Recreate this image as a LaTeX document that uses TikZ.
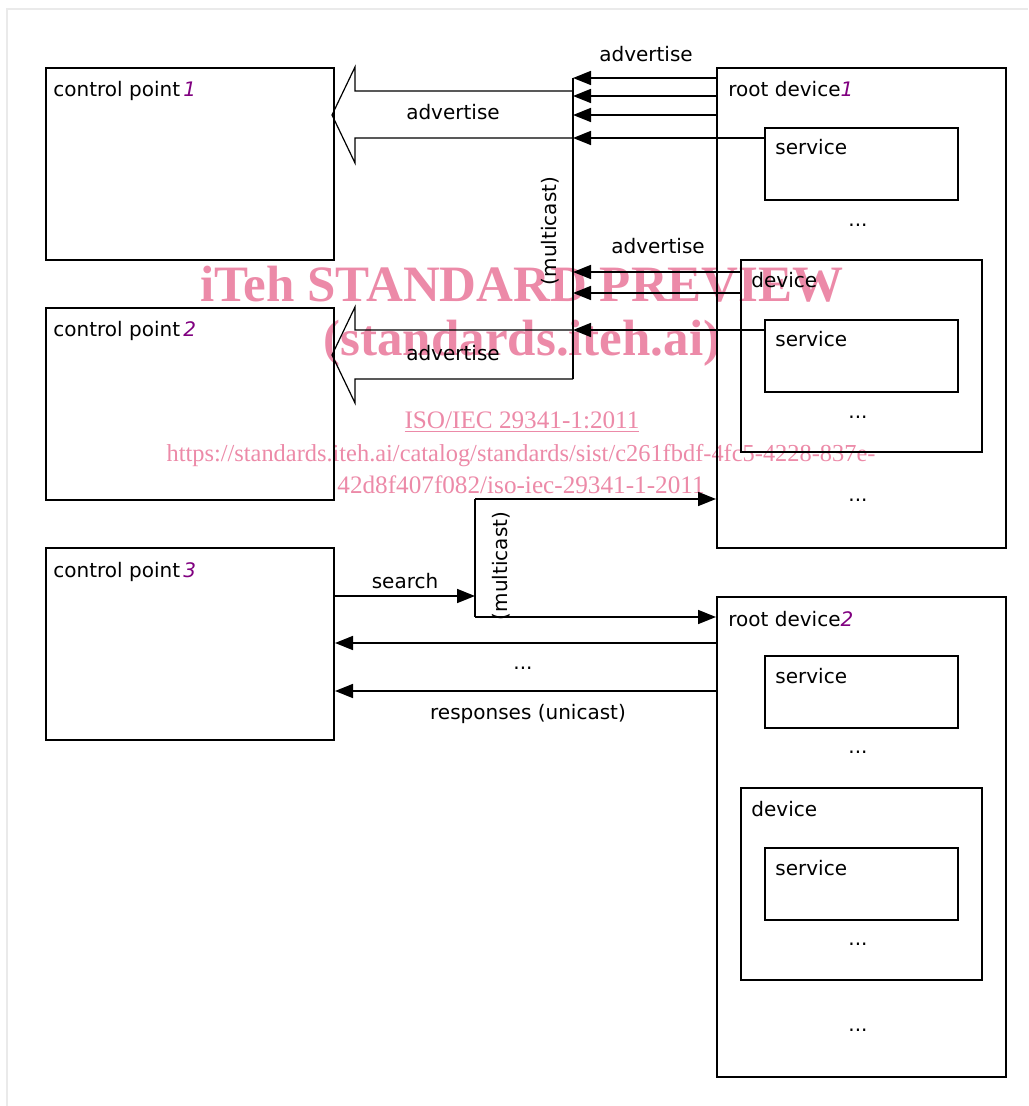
\documentclass[tikz,border=0pt]{standalone}
\usepackage{fontspec}
\setmainfont{DejaVu Sans}
\newfontfamily\wmfont{Liberation Serif}
\usepackage{tikz}
\usetikzlibrary{positioning,arrows.meta}
\usepackage{xcolor}
\definecolor{numpurple}{RGB}{128,0,128}
\definecolor{wmpink}{RGB}{236,138,168}
\definecolor{framegray}{RGB}{234,234,234}
\newcommand{\devnum}[1]{\textcolor{numpurple}{\textit{#1}}}

\begin{document}
\begin{tikzpicture}[
    x=0.5pt, y=-0.5pt,
    every node/.style={font=\fontsize{10}{12}\selectfont, inner sep=0pt},
    box/.style={draw, line width=1pt, anchor=north west},
    cpbox/.style={box, minimum width=144pt, minimum height=96pt},
    rootbox/.style={box, minimum width=144.5pt, minimum height=240pt},
    devbox/.style={box, minimum width=120.5pt, minimum height=96pt},
    svcbox/.style={box, minimum width=96.5pt, minimum height=36pt},
    lbl/.style={anchor=base west},
    arr/.style={-{Triangle[length=9pt, width=7pt]}, line width=0.8pt},
    bus/.style={line width=0.8pt},
    bigarr/.style={line width=0.6pt, line join=miter},
    wm/.style={text=wmpink, anchor=base, font=\wmfont\fontsize{12.6}{14}\selectfont},
    wmbig/.style={text=wmpink, font=\wmfont\bfseries\fontsize{25.5}{28}\selectfont}
]
\useasboundingbox (0,0) rectangle (1028,1106);
\draw[framegray, line width=1pt] (7,1106) -- (7,9) -- (1028,9);

\node[wmbig] (wm1) at (522,284) {iTeh STANDARD PREVIEW};
\node[wmbig] (wm2) at (522,343) {(standards.iteh.ai)};
\node[wm] (wm3) at (522,428) {\underline{ISO/IEC 29341-1:2011}};
\node[wm, font=\wmfont\fontsize{12.2}{14}\selectfont] (wm4) at (521,461) {https://standards.iteh.ai/catalog/standards/sist/c261fbdf-4fc5-4228-837e-};
\node[wm] (wm5) at (521,493) {42d8f407f082/iso-iec-29341-1-2011};

\node[cpbox] (cp1) at (45,67) {};
\node[cpbox] (cp2) at (45,307) {};
\node[cpbox] (cp3) at (45,547) {};
\node[lbl] (cp1lbl) at ([shift={(8,30)}]cp1.north west) {control point\,\devnum{1}};
\node[lbl] (cp2lbl) at ([shift={(8,30)}]cp2.north west) {control point\,\devnum{2}};
\node[lbl] (cp3lbl) at ([shift={(8,30)}]cp3.north west) {control point\,\devnum{3}};

\node[rootbox] (rd1) at (716,67) {};
\node[svcbox] (rd1svc) at (764,127) {};
\node[devbox] (rd1dev) at (740,259) {};
\node[svcbox] (rd1devsvc) at (764,319) {};
\node[lbl] (rd1lbl) at ([shift={(12,30)}]rd1.north west) {root device\devnum{1}};
\node[lbl] (rd1svclbl) at ([shift={(11,28)}]rd1svc.north west) {service};
\node[lbl] (rd1devlbl) at ([shift={(11,29)}]rd1dev.north west) {device};
\node[lbl] (rd1devsvclbl) at ([shift={(11,28)}]rd1devsvc.north west) {service};
\node (rd1dots1) at (858,225) {...};
\node (rd1dots2) at (858,417) {...};
\node (rd1dots3) at (858,500) {...};

\node[rootbox] (rd2) at (716,596) {};
\node[svcbox] (rd2svc) at (764,655) {};
\node[devbox] (rd2dev) at (740,787) {};
\node[svcbox] (rd2devsvc) at (764,847) {};
\node[lbl] (rd2lbl) at ([shift={(12,30)}]rd2.north west) {root device\devnum{2}};
\node[lbl] (rd2svclbl) at ([shift={(11,28)}]rd2svc.north west) {service};
\node[lbl] (rd2devlbl) at ([shift={(11,29)}]rd2dev.north west) {device};
\node[lbl] (rd2devsvclbl) at ([shift={(11,28)}]rd2devsvc.north west) {service};
\node (rd2dots1) at (858,752) {...};
\node (rd2dots2) at (858,944) {...};
\node (rd2dots3) at (858,1030) {...};

% advertise (multicast)
\coordinate (busA) at (573,78);
\coordinate (busAend) at (573,379);
\draw[bus] (busA) -- (busAend);
\foreach \y in {78,96,115}
  \draw[arr] (rd1.west |- 0,\y) -- (busA |- 0,\y);
\draw[arr] (rd1svc.west |- 0,138) -- (busA |- 0,138);
\foreach \y in {272,293}
  \draw[arr] (rd1dev.west |- 0,\y) -- (busA |- 0,\y);
\draw[arr] (rd1devsvc.west |- 0,330) -- (busA |- 0,330);

\draw[bigarr] (busA |- 0,91) -- (355,91) -- (355,67) -- (332,115) -- (355,163) -- (355,138) -- (busA |- 0,138);
\draw[bigarr] (busAend) -- (355,379) -- (355,403) -- (332,355) -- (355,307) -- (355,330) -- (busA |- 0,330);

\node (adv1) at (646,54) {advertise};
\node (adv2) at (453,112) {advertise};
\node (adv3) at (658,246) {advertise};
\node (adv4) at (453,353) {advertise};
\node[rotate=90] (mc1) at (550,231) {(multicast)};

% search and responses
\coordinate (busB) at (475,499);
\coordinate (busBend) at (475,617);
\draw[bus] (busB) -- (busBend);
\draw[arr] (busB) -- (rd1.west |- busB);
\draw[arr] (busBend) -- (rd2.west |- busBend);
\draw[arr] (cp3.east |- 0,596) -- (busB |- 0,596);
\draw[arr] (rd2.west |- 0,643) -- (cp3.east |- 0,643);
\draw[arr] (rd2.west |- 0,691) -- (cp3.east |- 0,691);

\node (srch) at (405,581) {search};
\node[rotate=90] (mc2) at (501,566) {(multicast)};
\node (respdots) at (523,668) {...};
\node (resp) at (528,714) {responses (unicast)};

\end{tikzpicture}
\end{document}
